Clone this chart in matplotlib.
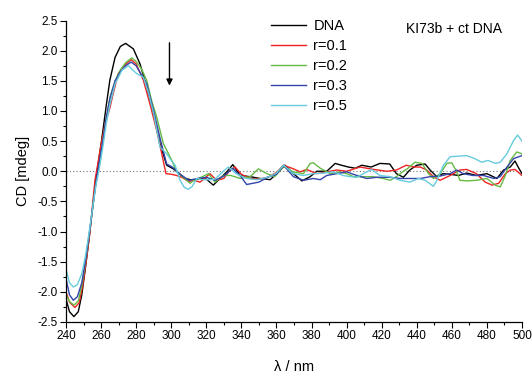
import numpy as np
import matplotlib

matplotlib.use("Agg")
import matplotlib.pyplot as plt

plt.rcParams["font.family"] = ["Liberation Sans", "DejaVu Sans"]
plt.rcParams["axes.unicode_minus"] = False

# --- data (wavelength in nm, CD in mdeg) ---------------------------------- #
wl_dna = [240, 242, 244.5, 247, 249, 251, 253, 255, 257, 258,
          260, 261.3, 263, 265, 268, 271, 274, 278.4, 282.2, 286,
          289.8, 293.6, 297.4, 301.2, 305, 308, 312.6, 316.4, 320, 324,
          328.8, 331.7, 335.1, 339.3, 345, 350.7, 356.4, 360.2, 364.9, 369.7,
          374.5, 379.2, 383, 388.7, 393.5, 397, 401, 405, 408.7, 414,
          419, 424.6, 428.4, 432.4, 436, 440, 444.8, 447.6, 451.4, 455,
          459, 463.7, 468.4, 474, 480, 485.7, 489.5, 493.3, 496, 498, 500]
cd_dna = [-2.12, -2.33, -2.41, -2.33, -2.05, -1.62, -1.15, -0.65, -0.15, 0.05,
          0.45, 0.73, 1.1, 1.51, 1.89, 2.07, 2.12, 2.03, 1.78, 1.40,
          0.96, 0.46, 0.10, 0.04, -0.05, -0.12, -0.15, -0.12, -0.13, -0.23,
          -0.09, -0.01, 0.11, -0.07, -0.09, -0.12, -0.14, -0.04, 0.10, -0.04,
          -0.16, -0.09, 0.0, 0.0, 0.13, 0.10, 0.07, 0.05, 0.10, 0.07,
          0.13, 0.12, -0.04, -0.10, 0.02, 0.10, 0.12, 0.02, -0.09, -0.04,
          -0.05, -0.07, -0.03, -0.07, -0.04, -0.12, 0.02, 0.07, 0.17, 0.06, -0.04]

wl_r01 = [240, 242, 245.1, 247.5, 249.5, 251.5, 253.5, 255.5, 256.5, 258,
          260, 262, 265.1, 267, 269.8, 273, 277.1, 280, 284.1, 288,
          291.7, 294.6, 297, 300, 303, 306, 310, 313, 316.4, 319,
          322, 326, 330, 333, 336.4, 340, 345, 350, 355, 360,
          364, 369.7, 373.5, 377.2, 383, 388.7, 394.4, 400, 407.7, 415.4,
          423, 428.4, 434, 438, 442, 445.7, 449.5, 453.3, 459, 464.6,
          468.4, 474, 479, 482.9, 486.7, 490.5, 493.3, 496, 500]
cd_r01 = [-2.0, -2.17, -2.26, -2.18, -1.9, -1.5, -1.05, -0.45, -0.15, 0.1,
          0.45, 0.75, 1.06, 1.3, 1.62, 1.75, 1.85, 1.78, 1.51, 1.1,
          0.68, 0.29, -0.04, -0.05, -0.07, -0.1, -0.17, -0.15, -0.18, -0.12,
          -0.04, -0.15, -0.12, 0.0, 0.07, -0.05, -0.12, -0.13, -0.1, -0.02,
          0.10, 0.04, -0.01, 0.03, -0.04, -0.01, 0.02, 0.0, 0.07, 0.03,
          0.0, 0.02, 0.10, 0.07, 0.07, 0.02, -0.09, -0.15, -0.07, 0.02,
          0.03, -0.04, -0.18, -0.23, -0.2, -0.04, 0.02, 0.03, -0.07]

wl_r02 = [240, 242, 244.6, 247, 249, 251, 253, 255, 257, 258.5,
          260, 262, 265.1, 268, 270.8, 274, 277.5, 280, 283, 286,
          289, 291.7, 295.5, 300, 303, 306, 310.7, 313, 317, 321.2,
          325, 329.7, 334, 339.3, 345, 349.7, 354.5, 359, 364, 369.7,
          375.4, 379.2, 381, 385, 390.6, 396, 400, 404, 409.6, 415,
          421, 424.8, 428.4, 432.4, 435, 439, 443, 446.7, 449.5, 453.3,
          457.2, 460, 462.8, 464.6, 468.4, 474, 480, 484.7, 487.6, 490.5,
          493.3, 497, 500]
cd_r02 = [-2.05, -2.16, -2.22, -2.15, -1.9, -1.52, -1.1, -0.65, -0.2, 0.0,
          0.3, 0.7, 1.23, 1.5, 1.67, 1.8, 1.88, 1.82, 1.7, 1.51,
          1.15, 0.9, 0.46, 0.2, 0.0, -0.08, -0.2, -0.15, -0.1, -0.04,
          -0.18, -0.07, -0.07, -0.12, -0.09, 0.04, -0.04, -0.09, 0.08, -0.01,
          -0.04, 0.13, 0.14, 0.05, -0.04, -0.01, -0.04, -0.09, -0.09, -0.09,
          -0.12, -0.15, -0.09, 0.0, 0.05, 0.15, 0.13, -0.04, -0.12, -0.04,
          0.13, 0.14, -0.01, -0.15, -0.16, -0.15, -0.12, -0.23, -0.26, -0.07,
          0.18, 0.32, 0.29]

wl_r03 = [240, 242, 244.2, 246.5, 249, 251, 253, 255, 257, 259,
          261, 263, 265, 268, 271, 274, 277.1, 280, 283, 286,
          290, 293.6, 297.4, 300, 302, 305, 310, 315, 320, 325,
          330, 335, 340, 343, 350, 355, 360, 364, 369.7, 375.4,
          381, 385, 388.7, 394.4, 400, 405.8, 411.5, 417.2, 424.8, 430.5,
          436, 442, 447.6, 453.3, 459, 462.8, 466.5, 472, 478, 484,
          487.6, 491.4, 495.2, 500]
cd_r03 = [-1.78, -2.05, -2.14, -2.08, -1.85, -1.5, -1.1, -0.65, -0.2, 0.15,
          0.5, 0.9, 1.2, 1.5, 1.65, 1.75, 1.81, 1.75, 1.6, 1.45,
          1.0, 0.55, 0.12, 0.08, 0.04, -0.05, -0.15, -0.12, -0.1, -0.15,
          -0.08, 0.05, -0.1, -0.22, -0.18, -0.1, -0.05, 0.10, -0.09, -0.15,
          -0.12, -0.14, -0.07, -0.04, -0.01, -0.07, -0.12, -0.1, -0.1, -0.12,
          -0.12, -0.12, -0.09, -0.08, -0.04, 0.02, -0.04, -0.07, -0.07, -0.12,
          -0.09, 0.07, 0.21, 0.26]

wl_r05 = [240, 242, 244.2, 246.5, 249, 251, 253, 255, 257, 259,
          261, 263, 265, 268, 272, 275.6, 278, 280.3, 284.1, 287,
          290, 293.6, 297.4, 300, 302.2, 305, 307.5, 309.8, 312, 314.6,
          318, 322, 325, 329.7, 332.6, 337, 343, 349, 356, 360,
          364, 369.7, 375.4, 381, 386.8, 392.5, 398, 402, 405.8, 411.5,
          414.2, 419, 424.8, 430.5, 436, 441, 444.8, 449.5, 452, 455.2,
          459, 463.7, 468.4, 473, 477, 480.7, 484.7, 487.6, 491.4, 495.2,
          497.5, 500]
cd_r05 = [-1.62, -1.85, -1.92, -1.88, -1.7, -1.42, -1.05, -0.65, -0.25, 0.05,
          0.4, 0.8, 1.1, 1.45, 1.68, 1.75, 1.68, 1.62, 1.56, 1.3,
          0.95, 0.40, 0.29, 0.18, 0.10, -0.15, -0.27, -0.30, -0.25, -0.12,
          -0.14, -0.14, -0.13, 0.0, 0.07, -0.04, -0.12, -0.14, -0.09, -0.03,
          0.10, -0.04, -0.07, -0.04, -0.03, -0.01, -0.07, -0.09, -0.1, -0.01,
          0.03, -0.07, -0.09, -0.15, -0.18, -0.12, -0.15, -0.25, -0.12, 0.10,
          0.24, 0.25, 0.26, 0.21, 0.15, 0.18, 0.13, 0.15, 0.29, 0.51,
          0.6, 0.5]

series = [
    ("DNA", wl_dna, cd_dna, "#000000"),
    ("r=0.1", wl_r01, cd_r01, "#ee2222"),
    ("r=0.2", wl_r02, cd_r02, "#66bb44"),
    ("r=0.3", wl_r03, cd_r03, "#3344aa"),
    ("r=0.5", wl_r05, cd_r05, "#66ccdd"),
]

fig = plt.figure(figsize=(5.32, 3.77), dpi=100)
ax = fig.add_axes([66 / 532, 55 / 377, 456 / 532, 301.5 / 377])

ax.axhline(0.0, color="#777777", linestyle=(0, (1, 2)), linewidth=0.8, zorder=1)
for label, wl, cd, color in series:
    ax.plot(wl, cd, color=color, linewidth=1.0, label=label, zorder=2)

# arrow marking decrease of the band
ax.annotate("", xy=(299, 1.42), xytext=(299, 2.13),
            arrowprops=dict(arrowstyle="-|>", color="black", lw=1.0,
                            mutation_scale=9, shrinkA=0, shrinkB=0))

ax.set_xlim(240, 500)
ax.set_ylim(-2.5, 2.5)
ax.set_xticks(np.arange(240, 501, 20))
ax.set_xticks(np.arange(240, 501, 10), minor=True)
ax.set_yticks(np.arange(-2.5, 2.51, 0.5))
ax.set_yticks(np.arange(-2.5, 2.51, 0.25), minor=True)
ax.yaxis.set_major_formatter(matplotlib.ticker.FormatStrFormatter("%.1f"))
ax.tick_params(which="major", direction="out", length=4, width=0.8,
               labelsize=8.5, pad=2)
ax.tick_params(which="minor", direction="out", length=2.5, width=0.8)
for side in ("top", "right"):
    ax.spines[side].set_visible(False)
for side in ("left", "bottom"):
    ax.spines[side].set_linewidth(0.9)

ax.set_xlabel("λ / nm", fontsize=10.5, labelpad=13)
ax.set_ylabel("CD [mdeg]", fontsize=10.5, labelpad=5)

ax.legend(loc="upper left", bbox_to_anchor=(271 / 532, (377 - 19) / 377),
          bbox_transform=fig.transFigure, frameon=False, fontsize=10.5,
          handlelength=2.4, handletextpad=0.5, labelspacing=0.42,
          borderpad=0, borderaxespad=0)
fig.text(406 / 532, (377 - 29) / 377, "KI73b + ct DNA", fontsize=10,
         ha="left", va="center")

fig.savefig("out.png", dpi=100)
plt.close(fig)
